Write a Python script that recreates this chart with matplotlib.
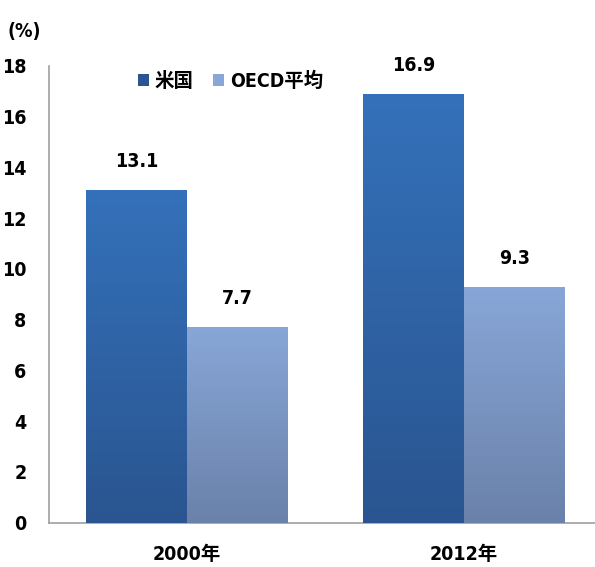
import numpy as np
import matplotlib
matplotlib.use("Agg")
import matplotlib.pyplot as plt
from matplotlib.colors import LinearSegmentedColormap
from matplotlib.patches import Patch

plt.rcParams['font.family'] = ['DejaVu Sans', 'Noto Sans CJK JP']
plt.rcParams['font.stretch'] = 'condensed'
plt.rcParams['font.weight'] = 'bold'

years = ["2000年", "2012年"]
series_names = ["米国", "OECD平均"]
us_values = [13.1, 16.9]
oecd_values = [7.7, 9.3]

# top / bottom colours of the vertical gradient for each series
us_grad = ("#3471ba", "#2a5590")
oecd_grad = ("#88a6d7", "#6a82aa")

fig = plt.figure(figsize=(5.95, 5.67), dpi=100)
ax = fig.add_axes([0.082, 0.078, 0.93, 0.806])

x = np.arange(len(years))
width = 0.365


def gradient_bars(xs, vals, grad, offset):
    bars = ax.bar(xs + offset, vals, width, color=grad[0], linewidth=0, zorder=2)
    cmap = LinearSegmentedColormap.from_list("g", [grad[1], grad[0]])
    for b in bars:
        x0, y0 = b.get_x(), b.get_y()
        w, h = b.get_width(), b.get_height()
        img = ax.imshow(np.linspace(0, 1, 256).reshape(-1, 1), cmap=cmap,
                        extent=[x0, x0 + w, y0, y0 + h], origin="lower",
                        aspect="auto", zorder=3)
        img.set_clip_path(b)
    return bars


gradient_bars(x, us_values, us_grad, -width / 2)
gradient_bars(x, oecd_values, oecd_grad, width / 2)

for xi, v in zip(x, us_values):
    ax.text(xi - width / 2, v + 0.75, f"{v:.1f}", ha="center", va="bottom",
            fontsize=14, fontweight="bold")
for xi, v in zip(x, oecd_values):
    ax.text(xi + width / 2, v + 0.75, f"{v:.1f}", ha="center", va="bottom",
            fontsize=14, fontweight="bold")

ax.set_xlim(-0.5, 1.5)
ax.set_ylim(0, 18)
ax.set_yticks(np.arange(0, 19, 2))
ax.set_xticks(x)
ax.set_xticklabels(years, fontsize=14, fontweight="bold")
ax.tick_params(axis="y", labelsize=14, length=0, pad=16)
ax.tick_params(axis="x", length=0, pad=16)
for lbl in ax.get_yticklabels():
    lbl.set_fontweight("bold")

for side in ["top", "right"]:
    ax.spines[side].set_visible(False)
ax.spines["left"].set_color("#a0a0a0")
ax.spines["bottom"].set_color("#a0a0a0")
ax.spines["left"].set_linewidth(1.2)
ax.spines["bottom"].set_linewidth(1.2)

fig.text(0.012, 0.945, "(%)", fontsize=14, fontweight="bold", ha="left", va="center")

handles = [Patch(facecolor=us_grad[1]), Patch(facecolor=oecd_grad[0])]
ax.legend(handles, series_names, loc="upper left", bbox_to_anchor=(0.13, 1.025),
          ncol=2, frameon=False, handlelength=0.55, handleheight=0.55,
          handletextpad=0.3, columnspacing=1.0,
          prop={"size": 14, "weight": "bold"})

fig.savefig("out.png", dpi=100)
